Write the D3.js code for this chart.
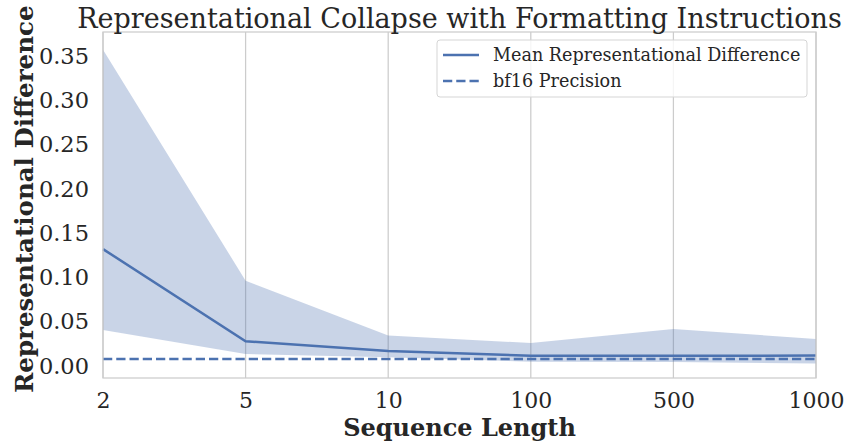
<!DOCTYPE html>
<html><head><meta charset="utf-8">
<script src="https://cdn.jsdelivr.net/npm/d3@7"></script>
<style>body{margin:0;background:#fff}svg{display:block}text{font-family:"DejaVu Serif",serif;fill:#262626}</style>
</head><body><div id="c"></div>
<script>
const categories = ["2","5","10","100","500","1000"];
const meanValues = [0.132, 0.028, 0.017, 0.0116, 0.0116, 0.0118];
const upperValues = [0.357, 0.0963, 0.0346, 0.026, 0.0418, 0.0305];
const lowerValues = [0.0406, 0.0135, 0.0098, 0.0049, 0.0045, 0.003];
const bf16Value = 0.0078125;
const yTicks = [0, 0.05, 0.10, 0.15, 0.20, 0.25, 0.30, 0.35];

const W = 849, H = 445;
const m = {l:103, r:816, t:32, b:378};
const svg = d3.select("#c").append("svg").attr("width", W).attr("height", H);

const x = d3.scalePoint().domain(categories).range([m.l, m.r]);
const y = d3.scaleLinear().domain([-0.0135, 0.377]).range([m.b, m.t]);

// grid (vertical)
svg.append("g").selectAll("line").data(categories).join("line")
  .attr("x1", d=>x(d)).attr("x2", d=>x(d)).attr("y1", m.t).attr("y2", m.b)
  .attr("stroke", "#cccccc").attr("stroke-width", 1.25);

const data = categories.map((c,i)=>({c, m:meanValues[i], u:upperValues[i], l:lowerValues[i]}));
svg.append("path").datum(data)
  .attr("d", d3.area().x(d=>x(d.c)).y0(d=>y(d.l)).y1(d=>y(d.u)))
  .attr("fill", "#4c72b0").attr("fill-opacity", 0.3);

svg.append("line").attr("x1", m.l).attr("x2", m.r).attr("y1", y(bf16Value)).attr("y2", y(bf16Value))
  .attr("stroke", "#4c72b0").attr("stroke-width", 2.5).attr("stroke-dasharray", "9.25,4");

svg.append("path").datum(data)
  .attr("d", d3.line().x(d=>x(d.c)).y(d=>y(d.m)))
  .attr("fill", "none").attr("stroke", "#4c72b0").attr("stroke-width", 2.5);

// spines
svg.append("rect").attr("x", m.l).attr("y", m.t).attr("width", m.r-m.l).attr("height", m.b-m.t)
  .attr("fill", "none").attr("stroke", "#cccccc").attr("stroke-width", 1.25);

// axes
const xa = svg.append("g").attr("transform", `translate(0,${m.b})`)
  .call(d3.axisBottom(x).tickSize(0).tickPadding(14));
xa.select(".domain").remove();
xa.selectAll("text").style("font-size","22px").attr("fill","#262626").style("font-family","DejaVu Serif");

const ya = svg.append("g").attr("transform", `translate(${m.l},0)`)
  .call(d3.axisLeft(y).tickValues(yTicks).tickFormat(d3.format(".2f")).tickSize(0).tickPadding(14));
ya.select(".domain").remove();
ya.selectAll("text").style("font-size","22.5px").attr("fill","#262626").style("font-family","DejaVu Serif");

svg.append("text").attr("x", (m.l+m.r)/2).attr("y", 28).attr("text-anchor","middle")
  .style("font-size","27px").text("Representational Collapse with Formatting Instructions");
svg.append("text").attr("x", (m.l+m.r)/2).attr("y", 436).attr("text-anchor","middle")
  .style("font-size","24px").style("font-weight","bold").text("Sequence Length");
svg.append("text").attr("transform", `translate(33,393) rotate(-90)`).attr("text-anchor","start")
  .style("font-size","24.5px").style("font-weight","bold").text("Representational Difference");

// legend
const lg = svg.append("g");
lg.append("rect").attr("x", 437).attr("y", 40).attr("width", 370).attr("height", 57).attr("rx", 3)
  .attr("fill", "#fff").attr("fill-opacity", 0.8).attr("stroke", "#d5d5d5");
lg.append("line").attr("x1",443).attr("x2",479).attr("y1",55).attr("y2",55).attr("stroke","#4c72b0").attr("stroke-width",2.5);
lg.append("line").attr("x1",443).attr("x2",479).attr("y1",81).attr("y2",81).attr("stroke","#4c72b0").attr("stroke-width",2.5).attr("stroke-dasharray","9.25,4");
lg.append("text").attr("x",493).attr("y",61).style("font-size","17.6px").text("Mean Representational Difference");
lg.append("text").attr("x",493).attr("y",87).style("font-size","17.6px").text("bf16 Precision");
</script></body></html>
